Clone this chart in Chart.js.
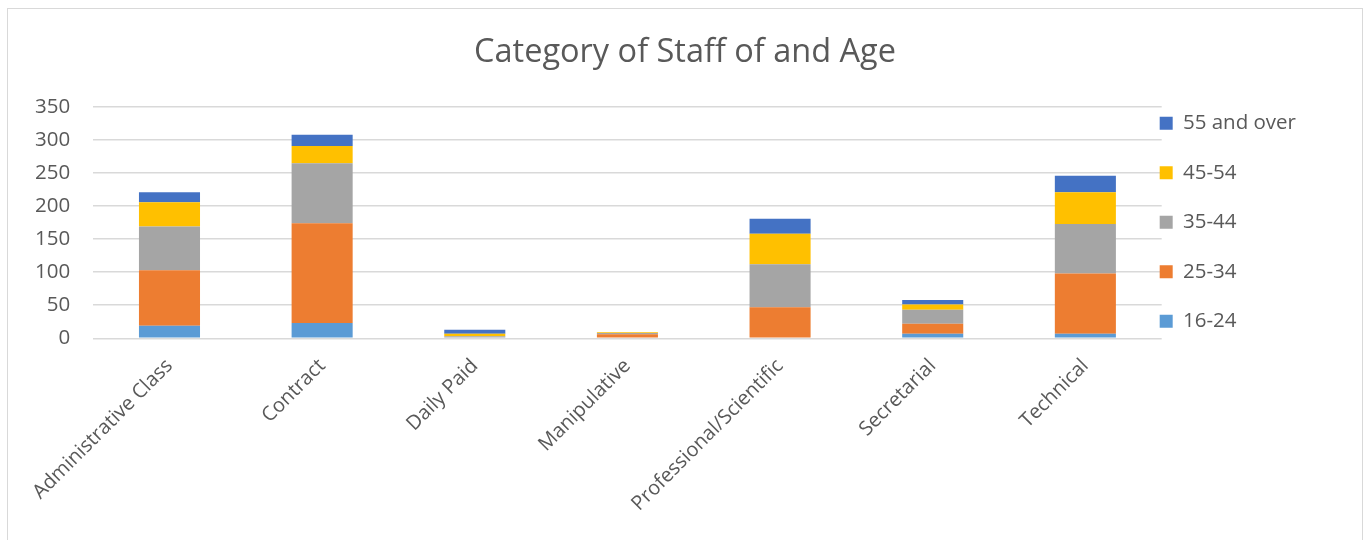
<!DOCTYPE html>
<html>
<head>
  <title>Category of Staff of and Age</title>
  <script src="https://cdn.jsdelivr.net/npm/chart.js"></script>
  <style>
    body {
      margin: 0;
      background: #ffffff;
    }

    /* the light frame round the whole chart */
    #frame {
      position: absolute;
      left: 7px;
      top: 8px;
      width: 1354px;
      height: 560px;
      border: 1px solid #d9d9d9;
      pointer-events: none;
    }

    #wrap {
      position: absolute;
      left: 0;
      top: 0;
      width: 1370px;
      height: 540px;
    }
  </style>
</head>
<body>
  <div id="wrap"><canvas id="staffChart"></canvas></div>
  <div id="frame"></div>

<script>
// staff categories along the x axis
let categories = ['Administrative Class', 'Contract', 'Daily Paid', 'Manipulative',
                  'Professional/Scientific', 'Secretarial', 'Technical'];

// head count per age band, one value per category
let age16to24 = [19, 23, 0, 0, 0, 7, 7];
let age25to34 = [84, 151, 1, 6, 47, 15, 91];
let age35to44 = [66, 91, 2, 2, 65, 21, 75];
let age45to54 = [37, 26, 4, 1, 46, 8, 48];
let age55over = [15, 17, 6, 0, 23, 7, 25];

let yTicks = [0, 50, 100, 150, 200, 250, 300, 350];

let textColor = '#595959';
let fontName = "'Open Sans', sans-serif";

function band(label, values, colour) {
  return {
    label: label,
    data: values,
    backgroundColor: colour,
    borderWidth: 0,
    barPercentage: 0.4,
    categoryPercentage: 1
  };
}

// pull the legend column in against the plot and centre the title on the frame
let boxPlace = {
  id: 'boxPlace',
  afterLayout(chart) {
    let lg = chart.legend;
    let pad = lg.options.labels.padding;
    let area = chart.chartArea;
    let w = lg.width;
    lg.left = area.right - pad - 2;
    lg.right = lg.left + w;
    lg.top = area.top - pad + 6;

    let tb = chart.titleBlock;
    let shift = 685 - (tb.left + tb.right) / 2;
    tb.left += shift;
    tb.right += shift;
  }
};

let options = {
  type: 'bar',
  data: {
    labels: categories,
    datasets: [
      band('16-24', age16to24, '#5b9bd5'),
      band('25-34', age25to34, '#ed7d31'),
      band('35-44', age35to44, '#a5a5a5'),
      band('45-54', age45to54, '#ffc000'),
      band('55 and over', age55over, '#4472c4')
    ]
  },
  options: {
    responsive: false,
    animation: false,
    layout: {
      padding: { left: 12, right: 33, top: 0, bottom: 16 }
    },
    plugins: {
      title: {
        display: true,
        text: 'Category of Staff of and Age',
        color: textColor,
        font: { family: fontName, size: 32.5, weight: 'normal' },
        padding: { top: 33, bottom: 35 }
      },
      legend: {
        position: 'right',
        align: 'start',
        reverse: true,
        labels: {
          color: textColor,
          font: { family: fontName, size: 20.5 },
          boxWidth: 13,
          boxHeight: 13,
          padding: 29
        }
      },
      tooltip: { enabled: false }
    },
    scales: {
      x: {
        stacked: true,
        grid: { display: false },
        border: { display: false },
        ticks: {
          color: textColor,
          font: { family: fontName, size: 20 },
          minRotation: 45,
          maxRotation: 45,
          autoSkip: false,
          padding: 8
        }
      },
      y: {
        stacked: true,
        min: 0,
        max: 350,
        afterBuildTicks(scale) {
          scale.ticks = yTicks.map(v => ({ value: v }));
        },
        grid: { color: '#d9d9d9', lineWidth: 1.5, drawTicks: false },
        border: { display: false },
        ticks: {
          color: textColor,
          font: { family: fontName, size: 20.5 },
          padding: 23
        }
      }
    }
  },
  plugins: [boxPlace]
};

let canvas = document.getElementById('staffChart');
canvas.width = 1370;
canvas.height = 540;
let chart = new Chart(canvas, options);
</script>
</body>
</html>
